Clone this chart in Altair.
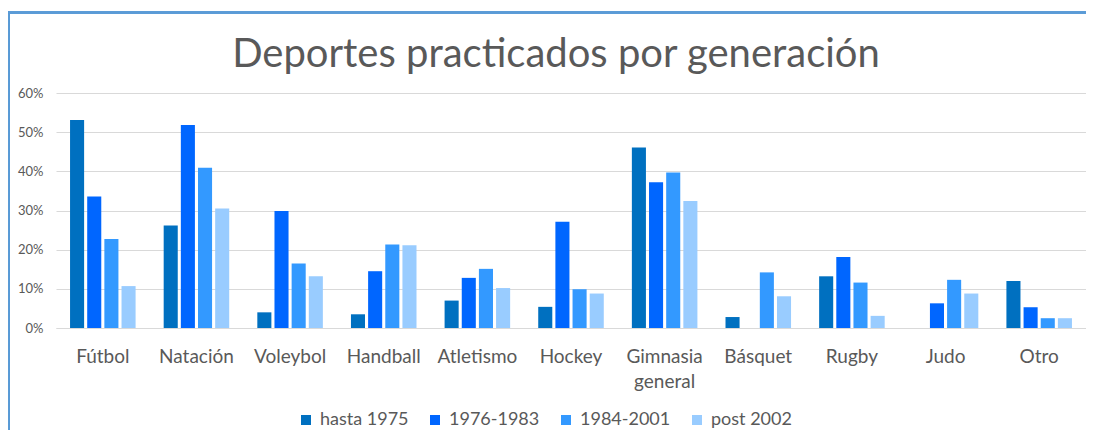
import altair as alt
import pandas as pd

deportes = ["Fútbol", "Natación", "Voleybol", "Handball", "Atletismo", "Hockey",
            "Gimnasia general", "Básquet", "Rugby", "Judo", "Otro"]
generaciones = ["hasta 1975", "1976-1983", "1984-2001", "post 2002"]
hasta_1975 = [53.1, 26.2, 4.0, 3.5, 7.0, 5.4, 46.1, 2.8, 13.2, 0.0, 12.0]
g_1976_1983 = [33.6, 51.8, 29.9, 14.5, 12.8, 27.1, 37.2, 0.0, 18.1, 6.3, 5.3]
g_1984_2001 = [22.7, 40.9, 16.5, 21.3, 15.1, 9.9, 39.7, 14.2, 11.6, 12.3, 2.5]
post_2002 = [10.7, 30.5, 13.2, 21.1, 10.2, 8.8, 32.4, 8.1, 3.1, 8.8, 2.5]
colores = ["#0070C0", "#0066FF", "#3399FF", "#99CCFF"]

series = [hasta_1975, g_1976_1983, g_1984_2001, post_2002]
rows = []
for gen, vals in zip(generaciones, series):
    for dep, v in zip(deportes, vals):
        rows.append({"deporte": dep, "generacion": gen, "valor": v / 100.0})
df = pd.DataFrame(rows)

FONT = "Lato"
GRAY = "#595959"

bars = alt.Chart(df).mark_bar().encode(
    x=alt.X("deporte:N", sort=deportes,
            scale=alt.Scale(paddingInner=0.3, paddingOuter=0.15),
            axis=alt.Axis(title=None, labelAngle=0, ticks=False, domain=True,
                          domainColor="#D9D9D9", domainWidth=1.2,
                          labelFont=FONT, labelFontSize=19, labelColor=GRAY,
                          labelPadding=19, labelLineHeight=25,
                          labelExpr="datum.value == 'Gimnasia general' ? ['Gimnasia', 'general'] : datum.value")),
    xOffset=alt.XOffset("generacion:N", sort=generaciones,
                        scale=alt.Scale(paddingInner=0.18, paddingOuter=0)),
    y=alt.Y("valor:Q", scale=alt.Scale(domain=[0, 0.6], nice=False),
            axis=alt.Axis(title=None, format=".0%", values=[0, 0.1, 0.2, 0.3, 0.4, 0.5, 0.6],
                          domain=False, ticks=False, gridColor="#D9D9D9", gridWidth=1.2,
                          labelFont=FONT, labelFontSize=13, labelColor=GRAY, labelPadding=13)),
    color=alt.Color("generacion:N", sort=generaciones,
                    scale=alt.Scale(domain=generaciones, range=colores),
                    legend=alt.Legend(title=None, orient="none", direction="horizontal",
                                      legendX=241, legendY=318,
                                      symbolType="square", symbolSize=100,
                                      symbolStrokeWidth=0, labelFont=FONT,
                                      labelFontSize=18, labelColor=GRAY,
                                      columnPadding=17, labelOffset=5)),
)

left_border = alt.Chart(df).mark_rule(color="#5B9BD5", strokeWidth=1.3, clip=False).encode(
    x=alt.value(-47.5), y=alt.value(-80.5), y2=alt.value(340)
)
top_border = alt.Chart(df).mark_rule(color="#5B9BD5", strokeWidth=1.3, clip=False).encode(
    x=alt.value(-47.5), x2=alt.value(1060), y=alt.value(-80.5)
)

chart = alt.layer(bars, left_border, top_border).properties(
    width=1030, height=235,
    title=alt.TitleParams("Deportes practicados por generación", font=FONT, fontSize=40,
                          fontWeight="normal", color=GRAY, anchor="middle", dx=-15, offset=-63),
    autosize=alt.AutoSizeParams(type="none"),
    padding={"left": 48, "top": 85, "right": 0, "bottom": 102},
).configure_view(stroke=None)

chart.save("out.html", embed_options={"renderer": "svg", "actions": False})
